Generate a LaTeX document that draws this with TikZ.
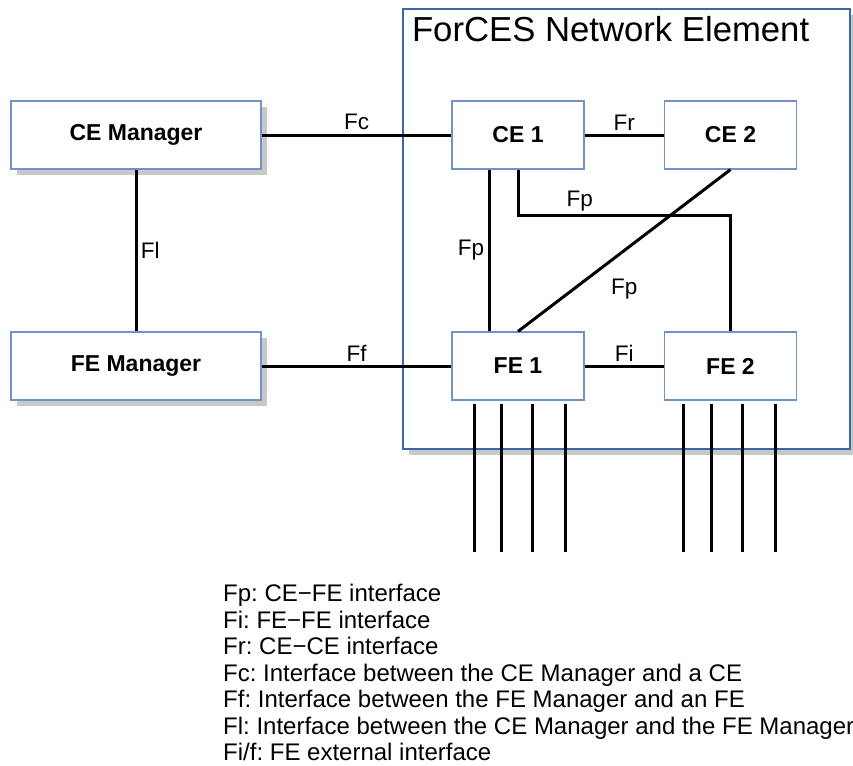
\documentclass[tikz,border=0pt]{standalone}
\usepackage{fontspec}
\setmainfont{Liberation Sans}
\usetikzlibrary{positioning, shadows}
\frenchspacing

\definecolor{boxblue}{RGB}{111,146,201}
\definecolor{neblue}{RGB}{58,104,166}
\definecolor{shadowgray}{RGB}{200,200,200}

\tikzset{
  elembox/.style={draw=boxblue, line width=1.2pt, fill=white, minimum width=132pt, minimum height=68pt, inner sep=0pt, font=\bfseries\fontsize{23}{27}\selectfont},
  mgrbox/.style={elembox, minimum width=250pt, drop shadow={shadow xshift=6pt, shadow yshift=-6pt, fill=shadowgray, opacity=1}},
  link/.style={line width=3pt},
  iflabel/.style={font=\fontsize{22.5}{27}\selectfont},
}

\begin{document}
\begin{tikzpicture}[x=1pt, y=-1pt]
\useasboundingbox (0,0) rectangle (853,765);

% Network element frame
\node[draw=neblue, line width=2.4pt, fill=white, minimum width=447pt, minimum height=440pt, inner sep=0pt,
  drop shadow={shadow xshift=6pt, shadow yshift=-6pt, fill=shadowgray, opacity=1}] (ne) at (626.5,229) {};
\node[anchor=base west, inner sep=0pt, font=\fontsize{34.7}{40}\selectfont] (netitle) at ([xshift=10pt, yshift=-34pt]ne.north west) {ForCES Network Element};

% Managers
\node[mgrbox] (cem) at (136,135) {CE Manager};
\node[mgrbox] (fem) at (136,366) {FE Manager};

% CEs and FEs
\node[elembox] (ce1) at (518,135) {CE 1};
\node[elembox] (ce2) at (730.5,135) {CE 2};
\node[elembox] (fe1) at (518,366) {FE 1};
\node[elembox] (fe2) at (730.5,366) {FE 2};

% Interfaces
\draw[link] (cem) -- node[iflabel, above] {Fc} (ce1);
\draw[link] (fem) -- node[iflabel, above] {Ff} (fe1);
\draw[link] (cem) -- node[iflabel, right] {Fl} (fem);
\draw[link] (ce1) -- node[iflabel, above] {Fr} (ce2);
\draw[link] (fe1) -- node[iflabel, above] {Fi} (fe2);
\draw[link] ([xshift=-29pt]ce1.south) -- node[iflabel, left] {Fp} ([xshift=-29pt]fe1.north);
\draw[link] (ce1.south) -- ++(0,46) -| node[iflabel, pos=0.145, above] {Fp} (fe2.north);
\draw[link] (ce2.south) -- node[iflabel, midway, below=24pt] {Fp} (fe1.north);

% External interfaces
\foreach \dx in {-44,-17,14,47}
  \draw[link] ([xshift=\dx pt, yshift=-3pt]fe1.south) -- ++(0,148);
\foreach \dx in {-47.5,-19.5,11.5,44.5}
  \draw[link] ([xshift=\dx pt, yshift=-3pt]fe2.south) -- ++(0,148);

% Legend
\node[anchor=north west, align=left, inner sep=0pt, font=\fontsize{24}{26.5}\selectfont] (legend) at (223,584) {%
Fp: CE−FE interface\\
Fi: FE−FE interface\\
Fr: CE−CE interface\\
Fc: Interface between the CE Manager and a CE\\
Ff: Interface between the FE Manager and an FE\\
Fl: Interface between the CE Manager and the FE Manager\\
Fi/f: FE external interface};
\end{tikzpicture}
\end{document}
